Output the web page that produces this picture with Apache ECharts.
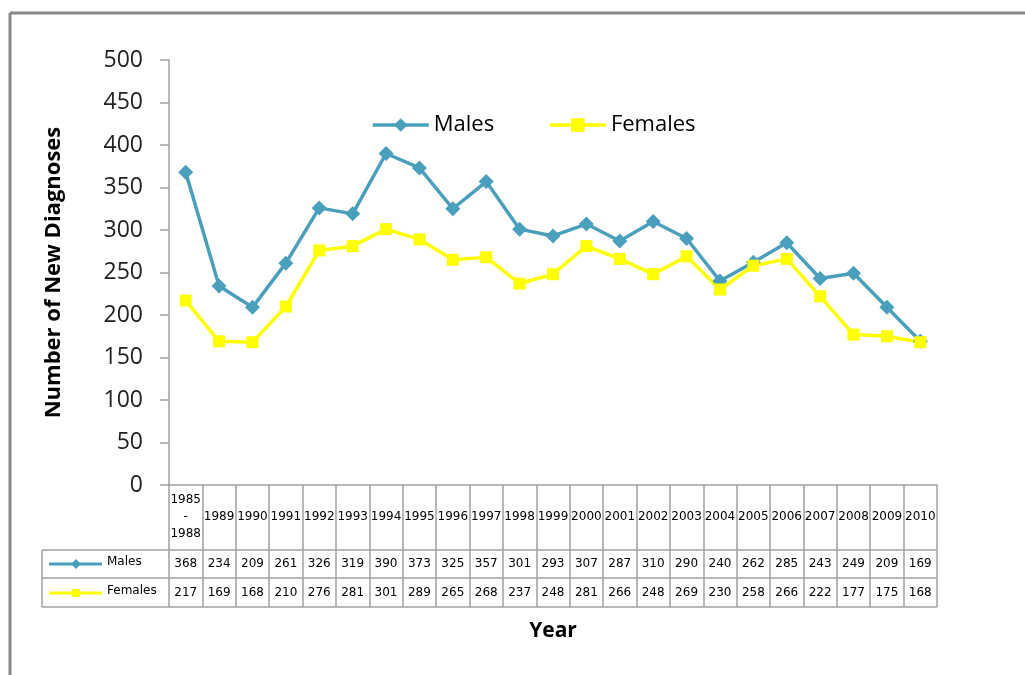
<!DOCTYPE html>
<html>
<head>
<meta charset="utf-8">
<script src="https://cdn.jsdelivr.net/npm/echarts@6/dist/echarts.min.js"></script>
<style>
  html, body { margin: 0; padding: 0; background: #fff; }
  #chart { width: 1025px; height: 675px; }
</style>
</head>
<body>
<div id="chart"></div>
<script>
// data
const years = ['1985-1988', '1989', '1990', '1991', '1992', '1993', '1994', '1995', '1996', '1997', '1998',
  '1999', '2000', '2001', '2002', '2003', '2004', '2005', '2006', '2007', '2008', '2009', '2010']
const males = [368, 234, 209, 261, 326, 319, 390, 373, 325, 357, 301, 293, 307, 287, 310, 290, 240, 262, 285, 243, 249, 209, 169]
const females = [217, 169, 168, 210, 276, 281, 301, 289, 265, 268, 237, 248, 281, 266, 248, 269, 230, 258, 266, 222, 177, 175, 168]
const yTicks = [0, 50, 100, 150, 200, 250, 300, 350, 400, 450, 500]

const maleColor = '#4A9FBD'
const femaleColor = '#FFFF00'
const gridColor = '#A0A0A0'
const font = '"Open Sans", "DejaVu Sans", sans-serif'
const tableFont = '"DejaVu Sans", sans-serif'

const dom = document.getElementById('chart')
const myChart = echarts.init(dom, null, { renderer: 'canvas' })

// table row in the bottom: label axis driven by series arrays
function rowAxis (arr, margin) {
  return {
    type: 'category',
    data: years,
    position: 'bottom',
    boundaryGap: true,
    axisLine: { show: false },
    axisTick: { show: false },
    axisLabel: {
      interval: 0,
      margin: margin,
      verticalAlign: 'middle',
      fontFamily: tableFont,
      fontSize: 12,
      color: '#000',
      formatter: function (v, i) { return String(arr[i]) }
    }
  }
}

const option = {
  animation: false,
  backgroundColor: '#fff',
  grid: {
    left: 169,
    right: 88,
    top: 60,
    bottom: 190,
    containLabel: false
  },
  legend: {
    top: 109,
    left: 366,
    itemWidth: 56,
    itemHeight: 17,
    itemGap: 54,
    lineStyle: { width: 3.5 },
    textStyle: { fontFamily: font, fontSize: 22, color: '#000' },
    data: ['Males', 'Females']
  },
  xAxis: [
    {
      type: 'category',
      data: years,
      boundaryGap: true,
      name: 'Year',
      nameLocation: 'middle',
      nameGap: 136,
      nameTextStyle: { fontFamily: font, fontSize: 21, fontWeight: 'bold', color: '#000' },
      axisLine: { lineStyle: { color: gridColor, width: 1.5 } },
      axisTick: { show: true, interval: 0, length: 122, lineStyle: { color: gridColor, width: 1.5 } },
      axisLabel: {
        interval: 0,
        margin: 32,
        verticalAlign: 'middle',
        fontFamily: tableFont,
        fontSize: 12,
        lineHeight: 17,
        color: '#000',
        formatter: function (v) { return v.replace('-', '\n-\n') }
      }
    },
    rowAxis(males, 79),
    rowAxis(females, 108)
  ],
  yAxis: {
    type: 'value',
    min: 0,
    max: 500,
    interval: 50,
    name: 'Number of New Diagnoses',
    nameLocation: 'middle',
    nameGap: 104,
    nameTextStyle: { fontFamily: font, fontSize: 22, fontWeight: 'bold', color: '#000' },
    axisLine: { show: true, lineStyle: { color: gridColor, width: 1.5 } },
    axisTick: { show: true, length: 9, lineStyle: { color: gridColor, width: 1.5 } },
    splitLine: { show: false },
    axisLabel: {
      margin: 26,
      fontFamily: font,
      fontSize: 23,
      color: '#222',
      formatter: function (v) { return yTicks.indexOf(v) >= 0 ? String(v) : '' }
    }
  },
  series: [
    {
      name: 'Males',
      type: 'line',
      data: males,
      symbol: 'diamond',
      symbolSize: 15,
      color: maleColor,
      lineStyle: { width: 3.5, color: maleColor },
      itemStyle: { color: maleColor }
    },
    {
      name: 'Females',
      type: 'line',
      data: females,
      symbol: 'rect',
      symbolSize: 12,
      color: femaleColor,
      lineStyle: { width: 3.5, color: femaleColor },
      itemStyle: { color: femaleColor }
    }
  ],
  graphic: [
    // outer frame
    { type: 'line', shape: { x1: 10, y1: 13, x2: 1025, y2: 13 }, style: { stroke: '#888', lineWidth: 3 } },
    { type: 'line', shape: { x1: 10, y1: 13, x2: 10, y2: 675 }, style: { stroke: '#888', lineWidth: 3 } },
    // table rows
    { type: 'line', shape: { x1: 42, y1: 550, x2: 937, y2: 550 }, style: { stroke: gridColor, lineWidth: 1.5 } },
    { type: 'line', shape: { x1: 42, y1: 578, x2: 937, y2: 578 }, style: { stroke: gridColor, lineWidth: 1.5 } },
    { type: 'line', shape: { x1: 42, y1: 607, x2: 937, y2: 607 }, style: { stroke: gridColor, lineWidth: 1.5 } },
    { type: 'line', shape: { x1: 42, y1: 550, x2: 42, y2: 607 }, style: { stroke: gridColor, lineWidth: 1.5 } },
    // table legend keys
    { type: 'line', shape: { x1: 49, y1: 564, x2: 102, y2: 564 }, style: { stroke: maleColor, lineWidth: 3 } },
    { type: 'polygon', shape: { points: [[76, 559], [81, 564], [76, 569], [71, 564]] }, style: { fill: maleColor } },
    { type: 'text', left: 107, top: 556, style: { text: 'Males', font: '12px ' + tableFont, fill: '#000' } },
    { type: 'line', shape: { x1: 49, y1: 593, x2: 102, y2: 593 }, style: { stroke: femaleColor, lineWidth: 3 } },
    { type: 'rect', shape: { x: 72, y: 589, width: 8, height: 8 }, style: { fill: femaleColor } },
    { type: 'text', left: 107, top: 585, style: { text: 'Females', font: '12px ' + tableFont, fill: '#000' } }
  ]
}

myChart.setOption(option)
window.addEventListener('resize', function () { myChart.resize() })
</script>
</body>
</html>
